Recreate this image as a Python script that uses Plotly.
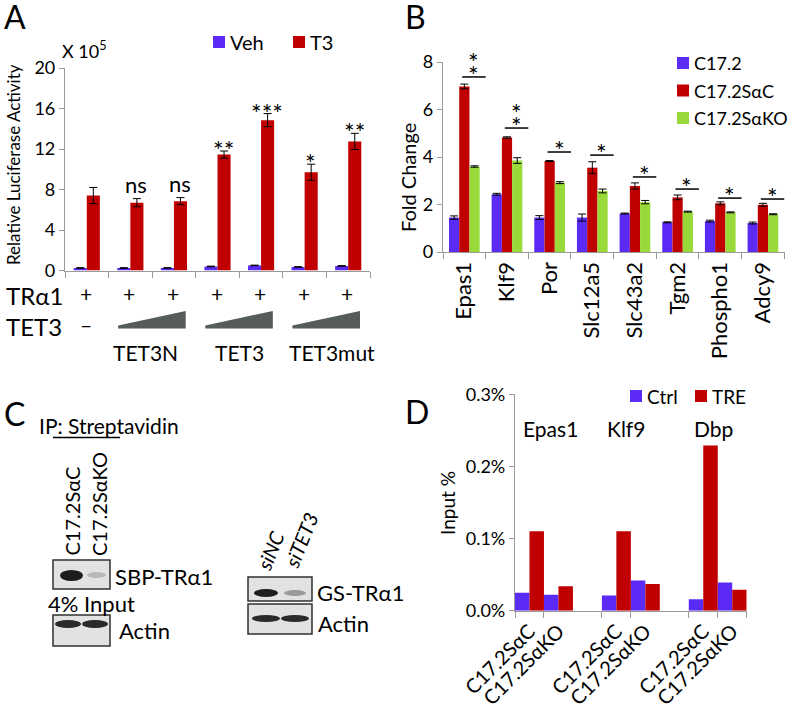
import plotly.graph_objects as go

W, H = 796, 705
FONT = "Lato, 'Open Sans', 'DejaVu Sans', sans-serif"
BLUE = "#5b2bf5"
RED = "#c00000"
GREEN = "#99d93a"
AXIS = "#9a9a9a"

# ---------------- Panel A data ----------------
a_conditions = ["TRα1", "TET3N low", "TET3N high", "TET3 low", "TET3 high", "TET3mut low", "TET3mut high"]
a_series = ["Veh", "T3"]
a_veh = [0.25, 0.25, 0.25, 0.4, 0.5, 0.35, 0.45]
a_veh_err = [0.03, 0.03, 0.03, 0.03, 0.03, 0.03, 0.03]
a_t3 = [7.4, 6.7, 6.85, 11.45, 14.85, 9.7, 12.75]
a_t3_err = [0.8, 0.4, 0.35, 0.35, 0.65, 0.8, 0.8]
a_sig = ["", "ns", "ns", "**", "***", "*", "**"]
a_tra1 = ["+", "+", "+", "+", "+", "+", "+"]
a_tet3_groups = ["TET3N", "TET3", "TET3mut"]

# ---------------- Panel B data ----------------
b_genes = ["Epas1", "Klf9", "Por", "Slc12a5", "Slc43a2", "Tgm2", "Phospho1", "Adcy9"]
b_series = ["C17.2", "C17.2SαC", "C17.2SαKO"]
b_c172 = [1.45, 2.43, 1.45, 1.45, 1.62, 1.25, 1.3, 1.22]
b_c172_err = [0.07, 0.04, 0.08, 0.15, 0.02, 0.02, 0.04, 0.04]
b_sac = [6.97, 4.82, 3.83, 3.55, 2.78, 2.3, 2.05, 1.99]
b_sac_err = [0.1, 0.03, 0.02, 0.25, 0.13, 0.1, 0.06, 0.06]
b_sako = [3.6, 3.85, 2.92, 2.57, 2.1, 1.7, 1.67, 1.59]
b_sako_err = [0.03, 0.12, 0.04, 0.08, 0.07, 0.02, 0.02, 0.02]
b_sig = ["**", "**", "*", "*", "*", "*", "*", "*"]
b_sig_level = [7.37, 5.22, 4.21, 4.08, 3.16, 2.65, 2.27, 2.23]

# ---------------- Panel D data ----------------
d_genes = ["Epas1", "Klf9", "Dbp"]
d_cells = ["C17.2SαC", "C17.2SαKO"]
d_series = ["Ctrl", "TRE"]
d_ctrl = [0.025, 0.022, 0.021, 0.042, 0.016, 0.039]
d_tre = [0.11, 0.034, 0.11, 0.037, 0.229, 0.029]


def px(x):
    return x / W


def py(y):
    return 1 - y / H


fig = go.Figure()

# Panel A bars
for name, vals, errs, col, off in [(a_series[0], a_veh, a_veh_err, BLUE, -0.3),
                                   (a_series[1], a_t3, a_t3_err, RED, 0.0)]:
    fig.add_trace(go.Bar(x=a_conditions, y=vals, name=name, marker_color=col, width=0.3, offset=off,
                         xaxis="x", yaxis="y", showlegend=False,
                         error_y=dict(type="data", array=errs, color="black", thickness=1, width=4)))

# Panel B bars
for name, vals, errs, col, off in [(b_series[0], b_c172, b_c172_err, BLUE, -0.36),
                                   (b_series[1], b_sac, b_sac_err, RED, -0.12),
                                   (b_series[2], b_sako, b_sako_err, GREEN, 0.12)]:
    fig.add_trace(go.Bar(x=b_genes, y=vals, name=name, marker_color=col, width=0.24, offset=off,
                         xaxis="x2", yaxis="y2", showlegend=False,
                         error_y=dict(type="data", array=errs, color="black", thickness=1, width=4)))

# Panel D bars
d_cats = []
d_order = []
for gi, g in enumerate(d_genes):
    for c in d_cells:
        d_cats.append(g + "|" + c)
        d_order.append(g + "|" + c)
    if gi < len(d_genes) - 1:
        d_order.append("gap" + str(gi))
d_ticktext = [k.split("|")[1] for k in d_cats]

for name, vals, col, off in [(d_series[0], d_ctrl, BLUE, -0.5), (d_series[1], d_tre, RED, 0.0)]:
    fig.add_trace(go.Bar(x=d_cats, y=vals, name=name, marker_color=col, width=0.5, offset=off,
                         xaxis="x3", yaxis="y3", showlegend=False))

axis_common = dict(showline=True, linecolor=AXIS, linewidth=1.2, ticks="outside", tickcolor=AXIS,
                   showgrid=False, zeroline=False, automargin=False,
                   tickfont=dict(size=18, color="black", family=FONT))

fig.update_layout(
    template="none",
    width=W, height=H, margin=dict(l=0, r=0, t=0, b=0, pad=0, autoexpand=False),
    paper_bgcolor="white", plot_bgcolor="white", barmode="overlay", showlegend=False,
    font=dict(family=FONT, size=18, color="black"),
    xaxis=dict(domain=[px(65), px(370)], anchor="y", type="category", tickson="boundaries",
               ticklen=6, showticklabels=False, **axis_common),
    yaxis=dict(domain=[py(270.5), py(68)], anchor="x", range=[0, 20], dtick=4, ticklen=5, **axis_common),
    xaxis2=dict(domain=[px(443), px(785)], anchor="y2", type="category", tickson="boundaries",
                ticklen=6, tickangle=-90, **{**axis_common, "tickfont": dict(size=22, color="black", family=FONT)}),
    yaxis2=dict(domain=[py(252), py(62)], anchor="x2", range=[0, 8], dtick=2, ticklen=5, **axis_common),
    xaxis3=dict(domain=[px(515), px(746.7)], anchor="y3", type="category", tickson="boundaries",
                categoryorder="array", categoryarray=d_order, tickmode="array", tickvals=d_cats,
                ticktext=d_ticktext, ticklen=6, tickangle=-45,
                **{**axis_common, "tickfont": dict(size=20, color="black", family=FONT)}),
    yaxis3=dict(domain=[py(610.7), py(394.3)], anchor="x3", range=[0, 0.3], dtick=0.1, tickformat=".1f",
                ticksuffix="%", ticklen=5, **axis_common),
)

ann = []
shapes = []


def text(t, x, y, size=18, xanchor="center", yanchor="middle", angle=0, **kw):
    ann.append(dict(text=t, x=px(x), y=py(y), xref="paper", yref="paper", showarrow=False,
                    xanchor=xanchor, yanchor=yanchor, textangle=angle,
                    font=dict(size=size, color="black", family=FONT), **kw))


def rect(x0, y0, x1, y1, fill, line=None, kind="rect"):
    shapes.append(dict(type=kind, xref="paper", yref="paper", x0=px(x0), x1=px(x1), y0=py(y1), y1=py(y0),
                       fillcolor=fill, line=(line if line else dict(width=0))))


def legend_item(name, color, sx, sy, size):
    rect(sx, sy - 6, sx + 12, sy + 6, color)
    text(name, sx + 15, sy, size=size, xanchor="left")


# Custom legends
legend_item(a_series[0], BLUE, 213, 42, 20)
legend_item(a_series[1], RED, 293, 42, 20)
for k, (nm, col) in enumerate(zip(b_series, [BLUE, RED, GREEN])):
    legend_item(nm, col, 677, 63 + 27.5 * k, 18)
legend_item(d_series[0], BLUE, 630, 396, 19)
legend_item(d_series[1], RED, 695, 396, 19)

# Panel letters
text("A", 2, 16, size=32, xanchor="left")
text("B", 403, 16, size=32, xanchor="left")
text("C", 2, 414, size=32, xanchor="left")
text("D", 403, 412, size=32, xanchor="left")

# Panel A extra text
text("X 10<sup>5</sup>", 60, 50, size=18, xanchor="left")
text("Relative Luciferase Activity", 13, 165, size=17, angle=-90)
for i, s in enumerate(a_sig):
    if s:
        ann.append(dict(text=s, x=a_conditions[i], y=a_t3[i] + a_t3_err[i], xref="x", yref="y",
                        showarrow=False, xanchor="center", yanchor="bottom",
                        xshift=6, yshift=(-1 if s == "ns" else -16),
                        font=dict(size=(22 if s == "ns" else 25), color="black", family=FONT)))
text("TRα1", 4, 295, size=24, xanchor="left")
text("TET3", 4, 326, size=24, xanchor="left")
unit = (370 - 65) / len(a_conditions)


def xa(idx):
    return 65 + (idx + 0.5) * unit


for i, p in enumerate(a_tra1):
    text(p, xa(i) - 1, 294, size=21)
text("–", xa(0) - 1, 324, size=21)
for k, g in enumerate(a_tet3_groups):
    s = 1 + 2 * k
    x0 = xa(s - 0.28)
    x1 = xa(s + 1.27)
    shapes.append(dict(type="path", xref="paper", yref="paper", line=dict(width=0), fillcolor="#565b5b",
                       path=f"M{px(x0)},{py(328.5)} L{px(x0)},{py(325.5)} L{px(x1)},{py(311)} L{px(x1)},{py(328.5)} Z"))
text(a_tet3_groups[0], 145, 352, size=21)
text(a_tet3_groups[1], 240, 352, size=21)
text(a_tet3_groups[2], 332, 352, size=21)

# Panel B extra
text("Fold Change", 408, 178, size=20, angle=-90)
for i, s in enumerate(b_sig):
    shapes.append(dict(type="line", xref="x2", yref="y2", x0=i - 0.05, x1=i + 0.5,
                       y0=b_sig_level[i], y1=b_sig_level[i], line=dict(color="black", width=1.5)))
    for j in range(len(s)):
        ann.append(dict(text="*", x=i + 0.22, y=b_sig_level[i], xref="x2", yref="y2", showarrow=False,
                        xanchor="center", yanchor="bottom", yshift=-15 + 13 * j,
                        font=dict(size=25, color="black", family=FONT)))

# Panel D extra
text("Input %", 447, 503, size=19, angle=-90)
text(d_genes[0], 550, 428, size=21)
text(d_genes[1], 626, 428, size=21)
text(d_genes[2], 713, 428, size=21)

# Panel C (western blot schematic)
text("IP: Streptavidin", 37, 425, size=21, xanchor="left")
shapes.append(dict(type="line", xref="paper", yref="paper", x0=px(53), x1=px(120), y0=py(437.5), y1=py(437.5),
                   line=dict(color="black", width=1.5)))
text("C17.2SαC", 71, 558, size=20, angle=-90, yanchor="bottom")
text("C17.2SαKO", 99, 558, size=20, angle=-90, yanchor="bottom")
text("<i>siNC</i>", 270, 551, size=20, angle=-68)
text("<i>siTET3</i>", 301, 540, size=20, angle=-68)

box_line = dict(color="#303030", width=1.5)
rect(53, 560, 110, 589, "#e2e2e2", box_line)
rect(60, 570, 83, 581, "#1c1c1c", kind="circle")
rect(87, 572, 106, 578, "#b8b8b8", kind="circle")
text("SBP-TRα1", 113, 576, size=22, xanchor="left")
text("4% Input", 91, 603, size=22)
rect(53, 615, 110, 646, "#e2e2e2", box_line)
rect(55, 620, 81, 628, "#2a2a2a", kind="circle")
rect(82, 620, 108, 628, "#2a2a2a", kind="circle")
text("Actin", 117, 630, size=22, xanchor="left")

rect(248, 577, 312, 601, "#e2e2e2", box_line)
rect(254, 589, 278, 597, "#1e1e1e", kind="circle")
rect(284, 590, 306, 596, "#9a9a9a", kind="circle")
text("GS-TRα1", 315, 592, size=22, xanchor="left")
rect(248, 604, 312, 634, "#e2e2e2", box_line)
rect(252, 615, 280, 622, "#2a2a2a", kind="circle")
rect(281, 615, 309, 622, "#2a2a2a", kind="circle")
text("Actin", 316, 623, size=22, xanchor="left")

fig.update_layout(annotations=ann, shapes=shapes)
fig.write_html("out.html", config={"displayModeBar": False},
               post_script="document.body.style.margin='0px';document.body.style.overflow='hidden';")
